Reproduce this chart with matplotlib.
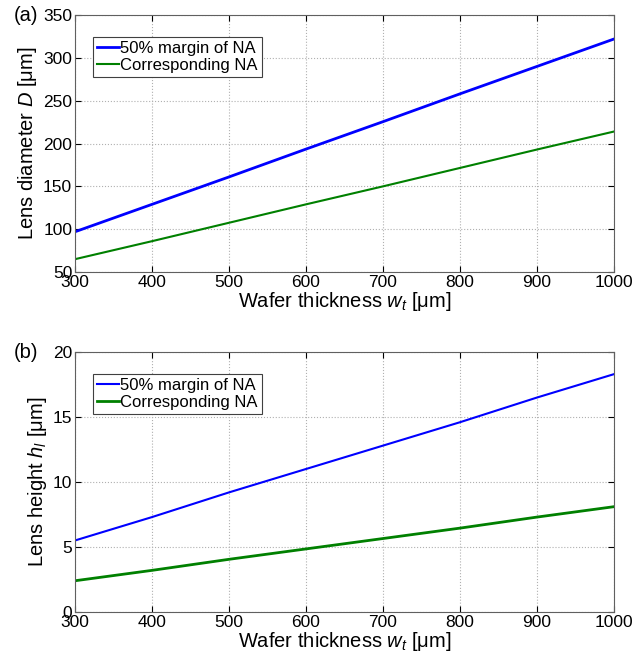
import matplotlib
matplotlib.use("Agg")
from matplotlib import pyplot as plt

plt.rcParams['font.family'] = ['Liberation Sans', 'DejaVu Sans']
plt.rcParams['mathtext.fontset'] = 'custom'
plt.rcParams['mathtext.rm'] = 'Liberation Sans'
plt.rcParams['mathtext.it'] = 'Liberation Sans:italic'

thickness = [300, 400, 500, 600, 700, 800, 900, 1000]
diam_margin = [97, 129, 161, 193.5, 225.5, 258, 290, 322]
diam_na = [65, 86, 107.5, 129, 150, 171.5, 193, 214]
height_margin = [5.5, 7.3, 9.2, 11.0, 12.8, 14.6, 16.5, 18.3]
height_na = [2.4, 3.2, 4.05, 4.85, 5.65, 6.45, 7.3, 8.1]
labels = ['50% margin of NA', 'Corresponding NA']

fig = plt.figure(figsize=(6.44, 6.58), dpi=100)
ax1 = fig.add_axes([0.1165, 0.5866, 0.837, 0.3906])
ax2 = fig.add_axes([0.1165, 0.070, 0.837, 0.395])


def style(ax, ylim, yticks, ylabel, tag):
    ax.set_xlim(300, 1000)
    ax.set_xticks(thickness)
    ax.set_ylim(*ylim)
    ax.set_yticks(yticks)
    ax.grid(True, linestyle=':', color='#b0b0b0', linewidth=0.8)
    ax.tick_params(direction='in', top=True, right=True, labelsize=12.5, length=4, pad=2)
    for s in ax.spines.values():
        s.set_color('#606060')
    ax.set_xlabel(r'Wafer thickness $w_t$ [μm]', fontsize=14.5, labelpad=0)
    ax.set_ylabel(ylabel, fontsize=14.5, labelpad=3)
    ax.text(-0.113, 1.0, tag, transform=ax.transAxes, fontsize=14.5, va='center', ha='left')
    leg = ax.legend(loc='upper left', bbox_to_anchor=(0.033, 0.915), fontsize=12,
                    handlelength=1.3, handletextpad=0.1, borderpad=0.25,
                    labelspacing=0.1, fancybox=False, framealpha=1, borderaxespad=0)
    leg.get_frame().set_edgecolor('#404040')
    leg.get_frame().set_linewidth(0.8)


ax1.plot(thickness, diam_margin, color='#0000ff', linewidth=2, label=labels[0])
ax1.plot(thickness, diam_na, color='#008000', linewidth=1.5, label=labels[1])
style(ax1, (50, 350), range(50, 351, 50), r'Lens diameter $D$ [μm]', '(a)')

ax2.plot(thickness, height_margin, color='#0000ff', linewidth=1.5, label=labels[0])
ax2.plot(thickness, height_na, color='#008000', linewidth=2, label=labels[1])
style(ax2, (0, 20), range(0, 21, 5), r'Lens height $h_l$ [μm]', '(b)')

fig.savefig('out.png', dpi=100)
